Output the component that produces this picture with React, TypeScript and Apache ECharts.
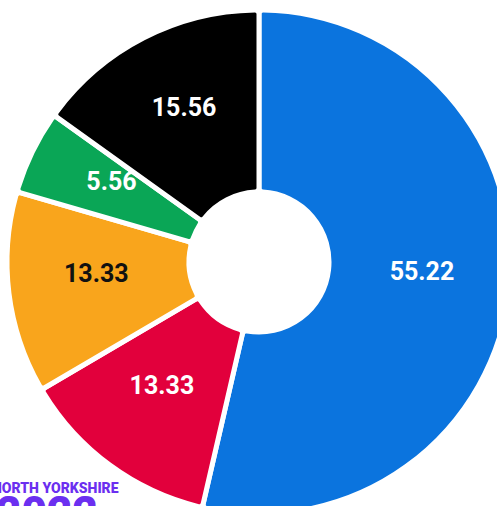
import React, { useEffect, useRef } from "react";
import * as echarts from "echarts";

const categories = ["Blue", "Red", "Orange", "Green", "Black"];
const values = [55.22, 13.33, 13.33, 5.56, 15.56];
const colors = ["#0b74de", "#e2003c", "#f9a51c", "#0aa656", "#000000"];
const labelColors = ["#ffffff", "#ffffff", "#111111", "#ffffff", "#ffffff"];

export default function App() {
  const ref = useRef<HTMLDivElement>(null);
  useEffect(() => {
    if (!ref.current) return;
    const chart = echarts.init(ref.current, null, { renderer: "svg" });
    chart.setOption({
      animation: false,
      backgroundColor: "#ffffff",
      series: [
        {
          type: "pie",
          center: [259, 262],
          radius: [70, 252],
          startAngle: 90,
          clockwise: true,
          avoidLabelOverlap: false,
          itemStyle: { borderColor: "#ffffff", borderWidth: 5, borderRadius: 4 },
          label: {
            show: true,
            position: "inside",
            formatter: (p: any) => p.value.toFixed(2),
            fontFamily: "Roboto",
            fontWeight: "bold",
            fontSize: 25,
            offset: [0, -9],
          },
          labelLine: { show: false },
          data: categories.map((c, i) => ({
            name: c,
            value: values[i],
            itemStyle: { color: colors[i] },
            label: { color: labelColors[i] },
          })),
        },
      ],
      graphic: [
        {
          type: "text",
          left: -8,
          top: 481,
          style: {
            text: "NORTH YORKSHIRE",
            fill: "#6b2ff0",
            font: "900 14px Roboto",
          },
        },
        {
          type: "text",
          left: -4,
          top: 491,
          style: {
            text: "2022",
            fill: "#6b2ff0",
            font: "900 44px Roboto",
          },
        },
      ],
    });
    return () => chart.dispose();
  }, []);
  return (
    <div
      ref={ref}
      style={{ position: "fixed", left: 0, top: 0, width: 497, height: 506 }}
    />
  );
}
